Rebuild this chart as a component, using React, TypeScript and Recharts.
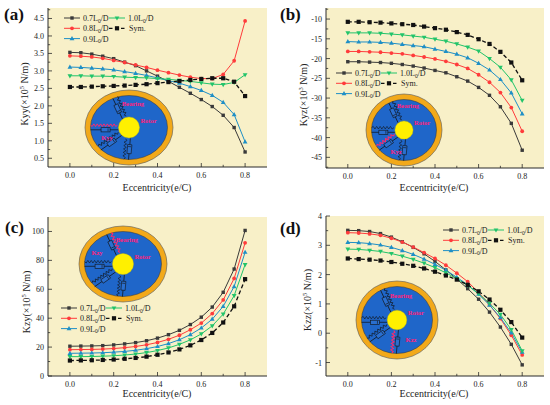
import React from 'react';
import { LineChart, Line, XAxis, YAxis, CartesianGrid } from 'recharts';

const SERIF = '"Liberation Serif", "DejaVu Serif", serif';
const AXIS = '#2b2b2b';
const PLOT_BG = '#f8f0c8';

// eccentricity ratio e/C
const ecc = [0, 0.05, 0.1, 0.15, 0.2, 0.25, 0.3, 0.35, 0.4, 0.45, 0.5, 0.55, 0.6, 0.65, 0.7, 0.75, 0.8];
const xMajor = [0, 0.2, 0.4, 0.6, 0.8];
const xMinor = [0.1, 0.3, 0.5, 0.7];

// (a) Kyy (x10^5 N/m)
const kyy07 = [3.53, 3.52, 3.48, 3.42, 3.35, 3.25, 3.15, 3.0, 2.85, 2.7, 2.53, 2.36, 2.18, 1.98, 1.73, 1.38, 0.68];
const kyy08 = [3.43, 3.42, 3.4, 3.36, 3.3, 3.24, 3.17, 3.1, 3.02, 2.95, 2.88, 2.82, 2.78, 2.78, 2.9, 3.29, 4.43];
const kyy09 = [3.11, 3.1, 3.08, 3.06, 3.03, 2.98, 2.93, 2.87, 2.8, 2.72, 2.65, 2.55, 2.44, 2.3, 2.1, 1.75, 0.97];
const kyy10 = [2.86, 2.86, 2.85, 2.85, 2.84, 2.82, 2.81, 2.8, 2.78, 2.76, 2.73, 2.7, 2.66, 2.62, 2.61, 2.67, 2.89];
const kyySym = [2.54, 2.54, 2.55, 2.56, 2.57, 2.58, 2.6, 2.62, 2.65, 2.68, 2.71, 2.74, 2.77, 2.79, 2.79, 2.69, 2.28];
const kyyMajor = [0.5, 1, 1.5, 2, 2.5, 3, 3.5, 4, 4.5];
const kyyMinor = [0.75, 1.25, 1.75, 2.25, 2.75, 3.25, 3.75, 4.25, 4.75];

// (b) Kyz (x10^3 N/m)
const kyz07 = [-20.8, -20.8, -20.9, -21.0, -21.2, -21.5, -21.9, -22.4, -23.0, -23.6, -24.6, -25.7, -27.3, -29.3, -32.2, -36.4, -43.2];
const kyz08 = [-18.2, -18.2, -18.3, -18.4, -18.6, -18.8, -19.2, -19.6, -20.1, -20.7, -21.5, -22.5, -24.1, -26.0, -28.6, -32.4, -38.4];
const kyz09 = [-15.7, -15.8, -15.8, -15.9, -16.1, -16.4, -16.7, -17.0, -17.6, -18.2, -18.9, -19.8, -21.2, -22.9, -25.3, -28.7, -34.0];
const kyz10 = [-13.5, -13.5, -13.5, -13.6, -13.8, -14.0, -14.3, -14.6, -15.1, -15.6, -16.3, -17.1, -18.1, -20.0, -22.2, -25.4, -30.6];
const kyzSym = [-10.7, -10.7, -10.8, -10.9, -11.1, -11.3, -11.5, -11.9, -12.3, -12.7, -13.3, -14.0, -15.1, -16.3, -18.3, -21.0, -25.5];
const kyzMajor = [-45, -40, -35, -30, -25, -20, -15, -10];
const kyzMinor = [-47.5, -42.5, -37.5, -32.5, -27.5, -22.5, -17.5, -12.5, -7.5];

// (c) Kzy (x10^5 N/m)
const kzy07 = [20.6, 20.7, 20.8, 21.0, 21.5, 22.2, 23.1, 24.4, 26.2, 28.6, 31.6, 35.6, 40.7, 47.7, 57.9, 74.0, 100.7];
const kzy08 = [18.2, 18.3, 18.4, 18.6, 19.0, 19.6, 20.4, 21.6, 23.2, 25.4, 28.2, 32.0, 36.6, 43.2, 52.6, 67.5, 92.1];
const kzy09 = [15.7, 15.8, 15.9, 16.1, 16.5, 17.0, 17.8, 18.9, 20.4, 22.4, 25.1, 28.6, 33.2, 39.3, 48.2, 61.9, 85.6];
const kzy10 = [13.4, 13.4, 13.5, 13.7, 14.0, 14.5, 15.2, 16.2, 17.6, 19.4, 21.9, 25.0, 29.1, 34.7, 42.8, 55.6, 77.1];
const kzySym = [10.7, 10.8, 10.9, 11.1, 11.4, 11.9, 12.5, 13.4, 14.7, 16.3, 18.4, 21.2, 24.9, 29.8, 37.0, 48.2, 67.0];
const kzyMajor = [0, 20, 40, 60, 80, 100];
const kzyMinor = [10, 30, 50, 70, 90];

// (d) Kzz (x10^5 N/m)
const kzz07 = [3.51, 3.5, 3.47, 3.4, 3.28, 3.12, 2.93, 2.71, 2.45, 2.16, 1.85, 1.52, 1.16, 0.72, 0.21, -0.38, -1.08];
const kzz08 = [3.43, 3.42, 3.39, 3.34, 3.24, 3.11, 2.94, 2.75, 2.55, 2.32, 2.05, 1.76, 1.39, 0.97, 0.5, -0.07, -0.74];
const kzz09 = [3.1, 3.09, 3.06, 3.01, 2.93, 2.82, 2.69, 2.53, 2.35, 2.15, 1.91, 1.65, 1.33, 0.96, 0.53, 0.01, -0.65];
const kzz10 = [2.87, 2.86, 2.83, 2.79, 2.72, 2.63, 2.52, 2.39, 2.24, 2.06, 1.86, 1.63, 1.35, 1.02, 0.64, 0.12, -0.6];
const kzzSym = [2.55, 2.53, 2.51, 2.48, 2.43, 2.37, 2.3, 2.21, 2.1, 1.97, 1.83, 1.65, 1.43, 1.15, 0.8, 0.38, -0.15];
const kzzMajor = [-1, 0, 1, 2, 3, 4];
const kzzMinor = [-0.5, 0.5, 1.5, 2.5, 3.5];

const seriesNames = ['0.7', '0.8', '0.9', '1.0', 'Sym.'];
const SERIES = [
  { color: '#3a3a3a', shape: 'square', dashed: false },
  { color: '#ff3b3b', shape: 'circle', dashed: false },
  { color: '#1e8fc6', shape: 'up', dashed: false },
  { color: '#22c46a', shape: 'down', dashed: false },
  { color: '#111111', shape: 'square', dashed: true },
];

function Marker({ cx, cy, shape, color, big }: any) {
  if (cx == null || cy == null) return null;
  if (shape === 'circle') return <circle cx={cx} cy={cy} r={1.9} fill={color} />;
  if (shape === 'up')
    return <polygon points={`${cx},${cy - 2.6} ${cx + 2.4},${cy + 1.6} ${cx - 2.4},${cy + 1.6}`} fill={color} />;
  if (shape === 'down')
    return <polygon points={`${cx},${cy + 2.6} ${cx + 2.4},${cy - 1.6} ${cx - 2.4},${cy - 1.6}`} fill={color} />;
  const h = big ? 2.1 : 1.7;
  return <rect x={cx - h} y={cy - h} width={h * 2} height={h * 2} fill={color} />;
}

function XTick({ x, y, payload, top }: any) {
  const v = payload.value;
  const major = xMajor.includes(v);
  const len = major ? 4 : 2.2;
  return (
    <g>
      <line x1={x} x2={x} y1={y} y2={top ? y + len : y - len} stroke={AXIS} strokeWidth={0.8} />
      {!top && major && (
        <text x={x} y={y + 11} textAnchor="middle" fontSize={8} fill="#222" fontFamily={SERIF}>
          {v.toFixed(1)}
        </text>
      )}
    </g>
  );
}

function YTick({ x, y, payload, right, majors, digits }: any) {
  const v = payload.value;
  const major = majors.includes(v);
  const len = major ? 4 : 2.2;
  return (
    <g>
      <line x1={x} x2={right ? x - len : x + len} y1={y} y2={y} stroke={AXIS} strokeWidth={0.8} />
      {!right && major && (
        <text x={x - 4} y={y + 3} textAnchor="end" fontSize={8} fill="#222" fontFamily={SERIF}>
          {v.toFixed(digits)}
        </text>
      )}
    </g>
  );
}

function Panel(p: any) {
  const data = ecc.map((e, i) => {
    const row: any = { e };
    p.series.forEach((s: number[], j: number) => {
      row['s' + j] = s[i];
    });
    return row;
  });
  const xTicks = [...xMajor, ...xMinor].sort((a, b) => a - b);
  const yTicks = [...p.yMajor, ...p.yMinor].sort((a: number, b: number) => a - b);
  return (
    <div style={{ position: 'absolute', left: p.left, top: p.top }}>
      <LineChart width={p.width} height={p.height} data={data} margin={{ top: p.mt, right: p.mr, left: 0, bottom: 0 }}>
        <CartesianGrid fill={PLOT_BG} horizontal={false} vertical={false} />
        <XAxis
          xAxisId={0}
          dataKey="e"
          type="number"
          domain={[-0.1, 0.9]}
          ticks={xTicks}
          interval={0}
          height={p.xh}
          tickSize={0}
          tickMargin={0}
          stroke={AXIS}
          tick={(t: any) => <XTick {...t} />}
          allowDataOverflow
        />
        <XAxis
          xAxisId="top"
          orientation="top"
          dataKey="e"
          type="number"
          domain={[-0.1, 0.9]}
          ticks={xTicks}
          interval={0}
          height={0}
          tickSize={0}
          tickMargin={0}
          stroke={AXIS}
          tick={(t: any) => <XTick {...t} top />}
          allowDataOverflow
        />
        <YAxis
          yAxisId={0}
          type="number"
          domain={p.yDomain}
          ticks={yTicks}
          interval={0}
          width={p.yw}
          tickSize={0}
          tickMargin={0}
          stroke={AXIS}
          tick={(t: any) => <YTick {...t} majors={p.yMajor} digits={p.digits} />}
          allowDataOverflow
        />
        <YAxis
          yAxisId="right"
          orientation="right"
          type="number"
          domain={p.yDomain}
          ticks={yTicks}
          interval={0}
          width={0}
          tickSize={0}
          tickMargin={0}
          stroke={AXIS}
          tick={(t: any) => <YTick {...t} right majors={p.yMajor} digits={p.digits} />}
          allowDataOverflow
        />
        {SERIES.map((s, j) => (
          <Line
            key={j}
            xAxisId={0}
            yAxisId={0}
            type="linear"
            dataKey={'s' + j}
            stroke={s.color}
            strokeWidth={s.dashed ? 1.3 : 1}
            strokeDasharray={s.dashed ? '4 2.5' : undefined}
            dot={(d: any) => <Marker key={d.index} cx={d.cx} cy={d.cy} shape={s.shape} color={s.color} big={s.dashed} />}
            isAnimationActive={false}
          />
        ))}
      </LineChart>
    </div>
  );
}

function LegendItem({ x, y, idx }: any) {
  const s = SERIES[idx];
  const name = seriesNames[idx];
  return (
    <g>
      {s.dashed ? (
        <line x1={x} x2={x + 16} y1={y} y2={y} stroke={s.color} strokeWidth={1.3} strokeDasharray="3.5 2.5" />
      ) : (
        <line x1={x} x2={x + 16} y1={y} y2={y} stroke={s.color} strokeWidth={1} />
      )}
      <Marker cx={x + 8} cy={y} shape={s.shape} color={s.color} big={s.dashed} />
      {s.dashed ? (
        <text x={x + 20} y={y + 3} fontSize={8} fill="#222" fontFamily={SERIF}>{name}</text>
      ) : (
        <text x={x + 19} y={y + 3} fontSize={8} fill="#222" fontFamily={SERIF}>
          {name}L<tspan fontSize={5.5} dy={1.5}>0</tspan>
          <tspan dy={-1.5}>/D</tspan>
        </text>
      )}
    </g>
  );
}

function Legend({ x, y }: any) {
  const dx = 45;
  const dy = 10.3;
  return (
    <g>
      <LegendItem x={x} y={y} idx={0} />
      <LegendItem x={x + dx} y={y} idx={3} />
      <LegendItem x={x} y={y + dy} idx={1} />
      <LegendItem x={x + dx} y={y + dy} idx={4} />
      <LegendItem x={x} y={y + dy * 2} idx={2} />
    </g>
  );
}

function zigzag(a: number, b: number, yy: number) {
  const pts: string[] = [];
  const n = Math.max(4, Math.floor((b - a) / 1.6));
  for (let i = 0; i <= n; i++) {
    const px = a + ((b - a) * i) / n;
    const py = i === 0 || i === n ? yy : yy + (i % 2 ? -1.3 : 1.3);
    pts.push(`${px.toFixed(2)},${py.toFixed(2)}`);
  }
  return pts.join(' ');
}

function Inset({ cx, cy, rx, ry, red, k, kx, ky }: any) {
  const irx = rx - 5.5;
  const iry = ry - 5.5;
  const rr = rx * 0.24;
  const arms = [-115, 180, 145, 95];
  return (
    <g>
      <ellipse cx={cx} cy={cy} rx={rx} ry={ry} fill="#f2a91a" stroke="#555" strokeWidth={0.6} />
      <ellipse cx={cx} cy={cy} rx={irx} ry={iry} fill="#1f66c9" stroke="#333" strokeWidth={0.5} />
      {arms.map((a, i) => {
        const t = (a * Math.PI) / 180;
        const L = 1 / Math.sqrt((Math.cos(t) / irx) ** 2 + (Math.sin(t) / iry) ** 2);
        const isRed = i === red;
        const mid = rr + (L - rr) * 0.3;
        return (
          <g key={i} transform={`translate(${cx},${cy}) rotate(${a})`}>
            <line x1={rr} x2={L} y1={-2.3} y2={-2.3} stroke="#111" strokeWidth={0.7} />
            <rect x={mid} y={-4.4} width={9} height={4.2} fill="#2a6fd0" stroke="#111" strokeWidth={0.6} />
            <line x1={mid + 2} x2={mid + 2} y1={-3.8} y2={-0.8} stroke="#111" strokeWidth={0.6} />
            <polyline
              points={zigzag(rr + 1, L, 2.3)}
              fill="none"
              stroke={isRed ? '#ff2a6a' : '#111'}
              strokeWidth={isRed ? 1 : 0.6}
            />
          </g>
        );
      })}
      <circle cx={cx} cy={cy} r={rr} fill="#fff000" stroke="#c9b800" strokeWidth={0.4} />
      <text x={cx + 4} y={cy - 22} textAnchor="middle" fontSize={6.5} fontWeight="bold" fill="#ff1f7a" fontFamily={SERIF}>
        Bearing
      </text>
      <text x={cx + rr + 9} y={cy - 5} textAnchor="middle" fontSize={6.5} fontWeight="bold" fill="#ff1f7a" fontFamily={SERIF}>
        Rotor
      </text>
      <text x={cx + kx} y={cy + ky} textAnchor="middle" fontSize={6.5} fontWeight="bold" fill="#ff1f7a" fontFamily={SERIF}>
        {k}
      </text>
    </g>
  );
}

function YLabel({ x, y, k, exp }: any) {
  return (
    <text transform={`translate(${x},${y}) rotate(-90)`} textAnchor="middle" fontSize={10} fill="#222" fontFamily={SERIF}>
      {k}(×10<tspan fontSize={6.5} dy={-4}>{exp}</tspan>
      <tspan dy={4}> N/m)</tspan>
    </text>
  );
}

function XLabel({ x, y }: any) {
  return (
    <text x={x} y={y} textAnchor="middle" fontSize={10} fill="#222" fontFamily={SERIF}>
      Eccentricity(e/C)
    </text>
  );
}

function PanelTag({ x, y, t }: any) {
  return (
    <text x={x} y={y} fontSize={17} fontWeight="bold" fill="#111" fontFamily={SERIF}>
      {t}
    </text>
  );
}

export default function App() {
  return (
    <div style={{ position: 'absolute', left: 0, top: 0, width: 550, height: 405, background: '#fff', overflow: 'hidden' }}>
      <Panel
        left={0} top={0} width={275} height={200} yw={48} mt={8} mr={8} xh={33}
        series={[kyy07, kyy08, kyy09, kyy10, kyySym]}
        yDomain={[0.25, 4.8]} yMajor={kyyMajor} yMinor={kyyMinor} digits={1}
      />
      <Panel
        left={275} top={0} width={275} height={200} yw={51} mt={8} mr={6} xh={32}
        series={[kyz07, kyz08, kyz09, kyz10, kyzSym]}
        yDomain={[-47.7, -7.2]} yMajor={kyzMajor} yMinor={kyzMinor} digits={0}
      />
      <Panel
        left={0} top={200} width={275} height={205} yw={48} mt={17} mr={8} xh={29}
        series={[kzy07, kzy08, kzy09, kzy10, kzySym]}
        yDomain={[0, 110]} yMajor={kzyMajor} yMinor={kzyMinor} digits={0}
      />
      <Panel
        left={275} top={200} width={275} height={205} yw={51} mt={16} mr={6} xh={29}
        series={[kzz07, kzz08, kzz09, kzz10, kzzSym]}
        yDomain={[-1.46, 4]} yMajor={kzzMajor} yMinor={kzzMinor} digits={0}
      />
      <svg width={550} height={405} style={{ position: 'absolute', left: 0, top: 0, pointerEvents: 'none' }}>
        <PanelTag x={4} y={20} t="(a)" />
        <PanelTag x={280} y={20} t="(b)" />
        <PanelTag x={5} y={233} t="(c)" />
        <PanelTag x={280} y={234} t="(d)" />

        <YLabel x={28} y={94} k="Kyy" exp="5" />
        <YLabel x={307} y={95} k="Kyz" exp="3" />
        <YLabel x={30} y={302} k="Kzy" exp="5" />
        <YLabel x={311} y={300} k="Kzz" exp="5" />

        <XLabel x={157} y={191} />
        <XLabel x={434} y={191} />
        <XLabel x={157} y={397} />
        <XLabel x={434} y={397} />

        <Legend x={64} y={18} />
        <Legend x={336} y={73} />
        <Legend x={61} y={308} />
        <Legend x={443} y={230} />

        <Inset cx={129} cy={127.5} rx={44} ry={37.5} red={1} k="Kyy" kx={-22} ky={12} />
        <Inset cx={404} cy={130} rx={38} ry={36} red={2} k="Kyz" kx={-8} ky={24} />
        <Inset cx={123} cy={264} rx={44} ry={38} red={0} k="Kzy" kx={-26} ky={-9} />
        <Inset cx={397} cy={320} rx={41} ry={39} red={3} k="Kzz" kx={14} ky={22} />
      </svg>
    </div>
  );
}
